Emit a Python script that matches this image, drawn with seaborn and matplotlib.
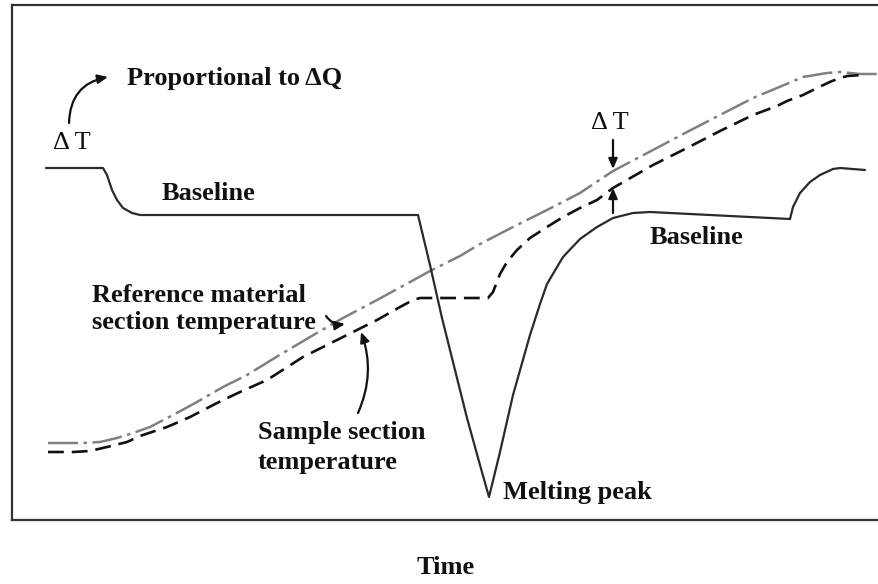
import matplotlib
matplotlib.use("Agg")
import matplotlib.pyplot as plt
import seaborn as sns
import pandas as pd

# ---- data (time units, signal height units) ----
dta_time = [46, 103, 107, 112, 117, 123, 132, 140, 418, 430, 442, 455, 467, 480, 489,
            500, 513, 530, 540, 547, 563, 580, 597, 613, 633, 650, 790, 793, 800,
            810, 820, 833, 840, 865]
dta_signal = [352, 352, 345, 330, 320, 312, 307, 305, 305, 255, 202, 150, 102, 55, 23,
              68, 125, 185, 216, 236, 263, 281, 293, 302, 307, 308, 301, 313, 327,
              338, 345, 351, 352, 350]

sample_time = [48, 73, 90, 107, 127, 140, 167, 190, 217, 240, 267, 303, 343, 377,
               400, 413, 420, 488, 493, 500, 507, 517, 530, 547, 563, 580, 597,
               613, 653, 687, 720, 753, 777, 787, 803, 817, 832, 847, 862]
sample_temp = [68, 68, 69, 73, 78, 84, 93, 103, 117, 128, 140, 163, 183, 200,
               213, 220, 222, 222, 228, 246, 258, 270, 282, 293, 303, 312, 320,
               332, 355, 372, 389, 405, 414, 419, 425, 432, 439, 444, 445]

ref_time = [48, 83, 100, 117, 133, 150, 173, 197, 223, 247, 273, 310, 343, 377,
            410, 430, 460, 480, 513, 547, 580, 613, 653, 687, 720, 753, 777, 803,
            827, 840, 860, 879]
ref_temp = [77, 77, 78, 82, 87, 93, 105, 118, 133, 145, 161, 183, 202, 220,
            238, 249, 264, 276, 293, 310, 327, 349, 370, 388, 405, 422, 432, 443,
            447, 448, 446, 446]

labels = {
    "prop": "Proportional to \u0394Q",
    "dT": "\u0394 T",
    "base": "Baseline",
    "ref1": "Reference material",
    "ref2": "section temperature",
    "samp1": "Sample section",
    "samp2": "temperature",
    "peak": "Melting peak",
    "xlabel": "Time",
}

sns.set_theme(style="white")
plt.rcParams["font.family"] = ["Liberation Serif", "DejaVu Serif"]

fig = plt.figure(figsize=(8.79, 5.84), dpi=100)
ax = fig.add_axes([12 / 879, 64 / 584, 1 - 12 / 879, 515 / 584])
ax.set_xlim(12, 879)
ax.set_ylim(0, 515)

dta = pd.DataFrame({"time": dta_time, "signal": dta_signal})
samp = pd.DataFrame({"time": sample_time, "signal": sample_temp})
ref = pd.DataFrame({"time": ref_time, "signal": ref_temp})

sns.lineplot(data=ref, x="time", y="signal", ax=ax, color="#808080", lw=1.8,
             linestyle=(0, (12, 2.2, 1.4, 2.2)), sort=False, estimator=None)
sns.lineplot(data=samp, x="time", y="signal", ax=ax, color="#111111", lw=1.9,
             linestyle=(0, (6.0, 3.0)), sort=False, estimator=None)
sns.lineplot(data=dta, x="time", y="signal", ax=ax, color="#2a2a2a", lw=1.6,
             sort=False, estimator=None, solid_capstyle="round", solid_joinstyle="round")

fs = 19
tc = "#111111"
bw = "bold"
ax.text(127, 442, labels["prop"], fontsize=fs, ha="left", va="center", color=tc, fontweight=bw)
ax.text(72, 377, labels["dT"], fontsize=fs, ha="center", va="center", color=tc)
ax.text(209, 327, labels["base"], fontsize=fs, ha="center", va="center", color=tc, fontweight=bw)
ax.text(610, 397, labels["dT"], fontsize=fs, ha="center", va="center", color=tc)
ax.text(697, 283, labels["base"], fontsize=fs, ha="center", va="center", color=tc, fontweight=bw)
ax.text(92, 225, labels["ref1"], fontsize=fs, ha="left", va="center", color=tc, fontweight=bw)
ax.text(92, 197, labels["ref2"], fontsize=fs, ha="left", va="center", color=tc, fontweight=bw)
ax.text(258, 88, labels["samp1"], fontsize=fs, ha="left", va="center", color=tc, fontweight=bw)
ax.text(258, 58, labels["samp2"], fontsize=fs, ha="left", va="center", color=tc, fontweight=bw)
ax.text(503, 27, labels["peak"], fontsize=fs, ha="left", va="center", color=tc, fontweight=bw)

akw = dict(arrowstyle="-|>,head_length=0.5,head_width=0.22", color="#111111", lw=1.6,
           shrinkA=0, shrinkB=0)
ax.annotate("", xy=(108, 443), xytext=(69, 397),
            arrowprops=dict(connectionstyle="arc3,rad=-0.4", **akw))
ax.annotate("", xy=(345, 196), xytext=(326, 204),
            arrowprops=dict(connectionstyle="arc3,rad=0.3", **akw))
ax.annotate("", xy=(361, 188), xytext=(358, 107),
            arrowprops=dict(connectionstyle="arc3,rad=0.2", **akw))
ax.annotate("", xy=(613, 351), xytext=(613, 380), arrowprops=dict(**akw))
ax.annotate("", xy=(613, 332), xytext=(613, 307), arrowprops=dict(**akw))

ax.set_xlabel(labels["xlabel"], fontsize=fs, color=tc, fontweight=bw)
ax.xaxis.set_label_coords(0.5, -47 / 515)
ax.xaxis.label.set_va("center")
ax.set_ylabel("")
ax.set_xticks([])
ax.set_yticks([])
for side in ["left", "top", "bottom"]:
    ax.spines[side].set_visible(True)
    ax.spines[side].set_color("#333333")
    ax.spines[side].set_linewidth(1.6)
ax.spines["right"].set_visible(False)

fig.savefig("out.png", dpi=100, facecolor="white")
